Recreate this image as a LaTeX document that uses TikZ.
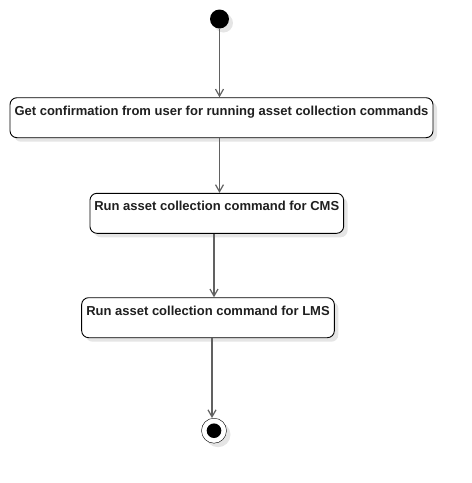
\documentclass[tikz,border=0pt]{standalone}
\usepackage{fontspec}
\setmainfont{Liberation Sans}
\usetikzlibrary{arrows.meta,shadows}

\begin{document}
\begin{tikzpicture}[x=1pt,y=-1pt,
  umlshadow/.style={drop shadow={shadow xshift=4pt,shadow yshift=-4pt,fill=black!10,opacity=1}},
  initial/.style={circle,fill=black,minimum size=19pt,inner sep=0pt,umlshadow},
  final/.style={circle,draw=black,fill=white,minimum size=25pt,inner sep=0pt,umlshadow,
    path picture={\fill[black] (path picture bounding box.center) circle (7.3pt);}},
  action/.style={rectangle,rounded corners=7pt,draw=black,fill=white,line width=0.9pt,
    inner xsep=4pt,inner ysep=0pt,text height=17.3pt,text depth=22.7pt,
    font=\fontsize{13}{15}\selectfont\bfseries,text=black!88,umlshadow},
  flow/.style={draw=black!62,line width=1.2pt,-{Straight Barb[length=7pt,width=8pt]}}]
			%%%%% START %%%%%
			
			\useasboundingbox (0,0) rectangle (472,483);
			
			\node[initial] (start) at (219.5,19) {};
			
			\node[action, minimum width=423pt] (confirm) at (221.5,117.7)
			  {Get confirmation from user for running asset collection commands};
			\node[action, minimum width=253.7pt] (cms) at (216.8,213.3)
			  {Run asset collection command for CMS};
			\node[action, minimum width=252.7pt] (lms) at (208,317.7)
			  {Run asset collection command for LMS};
			
			\node[final] (stop) at (214,430.7) {};
			
			\draw[flow] (start.south) -- (start.south |- confirm.north);
			\draw[flow] (confirm.south -| start) -- (start |- cms.north);
			\draw[flow] (cms.south -| stop) -- (stop |- lms.north);
			\draw[flow] (lms.south -| 212,0) -- (212,0 |- stop.north);
			
			%%%%% END %%%%%
\end{tikzpicture}
\end{document}
